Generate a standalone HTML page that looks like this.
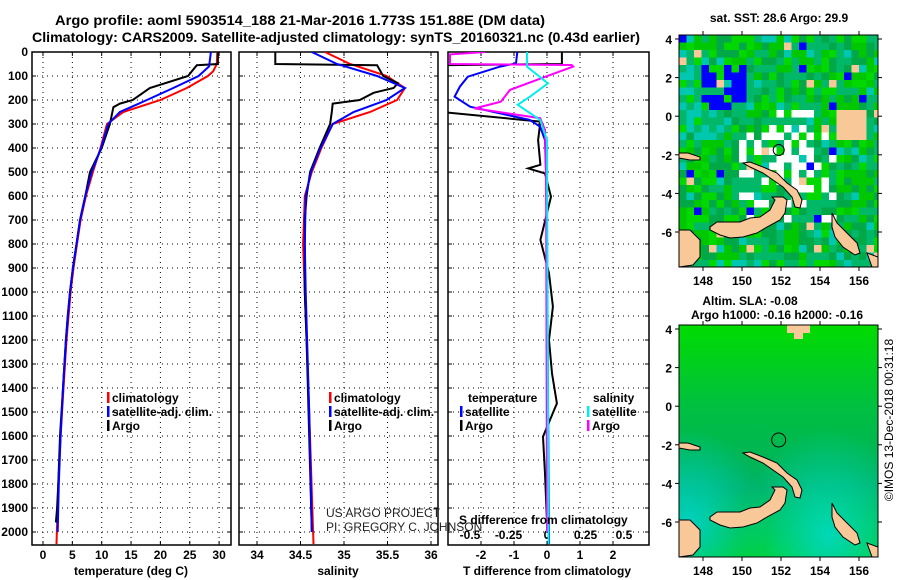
<!DOCTYPE html>
<html><head><meta charset="utf-8"><style>
body{margin:0;background:#fff}
svg{display:block;font-family:"Liberation Sans",sans-serif}
.b{font-weight:bold;font-size:12px}
</style></head><body>
<svg id="s" width="900" height="580" viewBox="0 0 900 580">
<defs>
<clipPath id="c1"><rect x="32" y="52" width="199" height="493"/></clipPath>
<clipPath id="c2"><rect x="239" y="52" width="199" height="493"/></clipPath>
<clipPath id="c3"><rect x="448" y="52" width="201" height="493"/></clipPath>
<clipPath id="cm1"><rect x="679" y="35" width="199" height="232"/></clipPath>
<clipPath id="cm2"><rect x="679" y="325" width="199" height="232"/></clipPath>
<radialGradient id="g2a" cx="0.75" cy="0.9" r="0.45"><stop offset="0" stop-color="#00d8b8"/><stop offset="1" stop-color="#00d8b8" stop-opacity="0"/></radialGradient>
<radialGradient id="g2b" cx="0.05" cy="0.85" r="0.4"><stop offset="0" stop-color="#00d0c0"/><stop offset="1" stop-color="#00d0c0" stop-opacity="0"/></radialGradient>
<linearGradient id="g2c" x1="0" y1="0" x2="0" y2="1"><stop offset="0" stop-color="#00dc00"/><stop offset="0.35" stop-color="#00c040"/><stop offset="0.7" stop-color="#00b060"/><stop offset="1" stop-color="#00d020"/></linearGradient>
</defs>
<text x="300" y="25" text-anchor="middle" font-size="14" font-weight="bold" textLength="490" lengthAdjust="spacingAndGlyphs">Argo profile: aoml 5903514_188 21-Mar-2016 1.773S 151.88E (DM data)</text>
<text x="336" y="42" text-anchor="middle" font-size="14" font-weight="bold" textLength="608" lengthAdjust="spacingAndGlyphs">Climatology: CARS2009. Satellite-adjusted climatology: synTS_20160321.nc (0.43d earlier)</text>
<g id="plots"></g>
<g id="maps"></g>
<text transform="translate(893,420) rotate(-90)" text-anchor="middle" font-size="12">©IMOS 13-Dec-2018 00:31:18</text>
</svg>
<script>
const NS='http://www.w3.org/2000/svg';
const svg=document.getElementById('s');
const P=document.getElementById('plots');
function mk(t,a,par){const e=document.createElementNS(NS,t);for(const k in a)e.setAttribute(k,a[k]);(par||P).appendChild(e);return e;}
function tx(x,y,s,a,par){const e=mk('text',Object.assign({x:x,y:y},a||{}),par);e.textContent=s;return e;}

// ---- data ----
const depthTicks=[0,100,200,300,400,500,600,700,800,900,1000,1100,1200,1300,1400,1500,1600,1700,1800,1900,2000];
const tempTicks=[0,5,10,15,20,25,30];
const salTicks=[34,34.5,35,35.5,36];
const tdTicks=[-2,-1,0,1,2];
const sdTicks=[-0.5,-0.25,0,0.25,0.5];
const tdTickLabels=['-2','-1','0','1','2'];
const sdTickLabels=['-0.5','-0.25','0','0.25','0.5'];
const argoTempDepth=[0,50,55,100,150,200,215,230,300,400,500,600,700,800,900,1000,1100,1200,1400,1600,1800,1900,1960];
const argoTemp=[29.8,29.8,26.2,24.7,18.2,15.3,13.1,12,11.4,10,8,7.2,6.3,5.7,5.1,4.6,4.2,3.9,3.4,2.9,2.6,2.4,2.2];
const climTempDepth=[0,50,80,100,150,200,250,300,400,500,600,700,800,900,1000,1200,1400,1600,1800,2050];
const climTemp=[29.7,29.6,29,28.1,24.5,20,13.7,10.9,9.8,8.5,7.3,6.4,5.8,5.2,4.7,4,3.5,3,2.6,2.3];
const satTempDepth=[0,60,100,150,200,250,300,400,500,600,700,800,900,1000,1200,1400,1600,1800,2000];
const satTemp=[28.6,28.3,26.5,22.2,17.7,13.1,11.1,9.9,8.3,7.2,6.3,5.7,5.1,4.6,3.9,3.4,3,2.7,2.5];
const argoSalDepth=[0,50,55,100,130,150,170,200,215,250,300,400,500,600,700,1000,1200,1600,2000];
const argoSal=[34.21,34.21,35.38,35.45,35.62,35.57,35.34,35.18,34.87,34.86,34.84,34.72,34.61,34.57,34.55,34.55,34.57,34.6,34.63];
const climSalDepth=[0,50,100,150,200,250,300,400,500,600,800,1000,1500,2050];
const climSal=[34.78,35.07,35.49,35.7,35.61,35.3,34.87,34.74,34.63,34.55,34.53,34.55,34.6,34.65];
const satSalDepth=[0,50,100,150,200,250,300,400,500,600,800,1000,1500,2000];
const satSal=[34.63,34.92,35.38,35.7,35.49,35.11,34.87,34.73,34.62,34.56,34.55,34.56,34.6,34.63];
const argoTdDepth=[0,50,55,250,290,367,470,485,506,603,783,922,1061,1200,1339,1464,1533,1603,1756,1960];
const argoTd=[0.45,0.45,-3.2,-3.2,-0.2,-0.27,-0.2,-0.57,-0.06,0.12,-0.2,0.06,0.18,0.06,0.15,0.3,0.09,-0.12,-0.06,0];
const satTdDepth=[0,47,61,103,144,186,228,283,311,367,506,783,2050];
const satTd=[-0.9,-0.94,-1.42,-2.4,-2.64,-2.8,-2.33,-0.52,-0.21,-0.06,-0.03,0,0.06];
const argoSdDepth=[0,10,50,54,61,103,158,207,235,276,325,506,2000];
const argoSd=[-0.4,-0.63,-0.63,0.16,0.17,-0.01,-0.24,-0.3,-0.47,-0.045,-0.013,-0.006,0];
const satSdDepth=[0,61,131,186,220,283,367,2050];
const satSd=[-0.13,-0.13,0.006,-0.11,-0.19,-0.045,0,0.01];

// ---- scales ----
const yD=d=>52+d*0.24;
const xT=t=>43+t*5.87;
const xS=s=>257+(s-34)*87;
const xTd=v=>547+v*33;
const xSd=v=>547+v*154;

function frame(x,w,name,xticks,xs){
  depthTicks.forEach(d=>{const l=mk('line',{x1:x,x2:x+w,y1:yD(d),y2:yD(d),stroke:'#000','stroke-dasharray':'1,4','stroke-width':1});
    
    mk('line',{x1:x,x2:x+4,y1:yD(d),y2:yD(d),stroke:'#000'});mk('line',{x1:x+w-4,x2:x+w,y1:yD(d),y2:yD(d),stroke:'#000'});});
  xticks.forEach(t=>{const X=xs(t);const l=mk('line',{x1:X,x2:X,y1:52,y2:545,stroke:'#000','stroke-dasharray':'1,4'});
    
    mk('line',{x1:X,x2:X,y1:52,y2:56,stroke:'#000'});mk('line',{x1:X,x2:X,y1:541,y2:545,stroke:'#000'});});
  const r=mk('rect',{x:x,y:52,width:w,height:493,fill:'none',stroke:'#000','stroke-width':1.5});
  
}
frame(32,199,'temperature-panel',tempTicks,xT);
frame(239,199,'salinity-panel',salTicks,xS);
frame(448,201,'difference-panel',tdTicks,xTd);

depthTicks.forEach(d=>{const t=tx(28,yD(d)+4,String(d),{'text-anchor':'end',class:'b'});
  });
tempTicks.forEach(v=>{const t=tx(xT(v),559,String(v),{'text-anchor':'middle',class:'b'});
  });
salTicks.forEach(v=>{const t=tx(xS(v),559,String(v),{'text-anchor':'middle',class:'b'});
  });
tdTicks.forEach((v,i)=>{const t=tx(xTd(v),559,tdTickLabels[i],{'text-anchor':'middle',class:'b'});
  });
sdTicks.forEach((v,i)=>{const t=tx(xSd(v),539,sdTickLabels[i],{'text-anchor':'middle',class:'b'});
  });

function line(ds,vs,xs,col,clip,name){
  const pts=ds.map((d,i)=>xs(vs[i]).toFixed(1)+','+yD(d).toFixed(1)).join(' ');
  const p=mk('polyline',{points:pts,fill:'none',stroke:col,'stroke-width':2,'clip-path':'url(#'+clip+')'});
  
}
line(climTempDepth,climTemp,xT,'#f00','c1','temp-climatology-line');
line(argoTempDepth,argoTemp,xT,'#000','c1','temp-argo-line');
line(satTempDepth,satTemp,xT,'#00f','c1','temp-satellite-line');
line(climSalDepth,climSal,xS,'#f00','c2','sal-climatology-line');
line(argoSalDepth,argoSal,xS,'#000','c2','sal-argo-line');
line(satSalDepth,satSal,xS,'#00f','c2','sal-satellite-line');
line(argoTdDepth,argoTd,xTd,'#000','c3','tdiff-argo-line');
line(satTdDepth,satTd,xTd,'#00f','c3','tdiff-satellite-line');
line(argoSdDepth,argoSd,xSd,'#f0f','c3','sdiff-argo-line');
line(satSdDepth,satSd,xSd,'#0ee','c3','sdiff-satellite-line');

function leg(x,y,col,s,name){mk('rect',{x:x,y:y-10,width:2.5,height:11,fill:col});
  const t=tx(x+5,y,s,{class:'b'});}
leg(107,402,'#f00','climatology','legend-climatology');
leg(107,416,'#00f','satellite-adj. clim.','legend-satellite');
leg(107,430,'#000','Argo','legend-argo');
leg(329,402,'#f00','climatology','legend-climatology-2');
leg(329,416,'#00f','satellite-adj. clim.','legend-satellite-2');
leg(329,430,'#000','Argo','legend-argo-2');
tx(468,402,'temperature',{class:'b'});
leg(460,416,'#00f','satellite','legend-tdiff-satellite');
leg(460,430,'#000','Argo','legend-tdiff-argo');
tx(593,402,'salinity',{class:'b'});
leg(587,416,'#0ee','satellite','legend-sdiff-satellite');
leg(587,430,'#f0f','Argo','legend-sdiff-argo');
tx(326,517,'US ARGO PROJECT',{'font-size':12,fill:'#222'});
tx(326,531,'PI: GREGORY C. JOHNSON',{'font-size':12,fill:'#222'});
tx(459,524,'S difference from climatology',{class:'b'});
let t;
t=tx(131,575,'temperature (deg C)',{'text-anchor':'middle',class:'b'});
t=tx(338,575,'salinity',{'text-anchor':'middle',class:'b'});
t=tx(547,575,'T difference from climatology',{'text-anchor':'middle',class:'b'});

// ---- maps ----
const M=document.getElementById('maps');
const lonTicks=[148,150,152,154,156];
const latTicks=[4,2,0,-2,-4,-6];
function hsh(i,j){let h=(i*374761393+j*668265263)^(i*j*1274126177);h=(h^(h>>>13))*1274126177;return ((h^(h>>>16))>>>0)%1000/1000;}
const pal=['#00c800','#00a848','#00b868','#00d800'];
function land(ox,oy,par){
  const shapes=[[31,192,38,187,61,187,71,183,81,182,91,175,96,165,93,162,104,162,108,165,106,178,101,185,88,192,78,198,64,202,51,203,41,200,31,195],
  [64,128,71,127,84,132,98,138,108,148,118,155,123,165,121,173,116,172,113,162,104,152,94,145,84,138,71,132],
  [153,178,158,188,168,198,178,208,181,218,176,220,164,212,156,202,153,192],
  [0,195,11,195,21,205,21,222,14,230,0,232],
  [0,118,9,118,21,122,21,125,11,125,0,123],
  [188,218,199,222,199,232,193,232]];
  shapes.forEach(s=>{const pts=[];for(let k=0;k<s.length;k+=2)pts.push((ox+s[k])+','+(oy+s[k+1]));
    const p=mk('polygon',{points:pts.join(' '),fill:'#f8c898',stroke:'#000','stroke-width':1},par);
    });
}
function mapAxes(oy,par,name){
  const r=mk('rect',{x:679,y:oy,width:199,height:232,fill:'none',stroke:'#000'},par);
  
  lonTicks.forEach(l=>{const X=703+(l-148)*19.5;mk('line',{x1:X,x2:X,y1:oy,y2:oy-4,stroke:'#000'},par);mk('line',{x1:X,x2:X,y1:oy+232,y2:oy+236,stroke:'#000'},par);
    tx(X,oy+250,String(l),{'text-anchor':'middle',class:'b','font-size':13},par);});
  latTicks.forEach(l=>{const Y=oy+4+(4-l)*19.3;mk('line',{x1:675,x2:679,y1:Y,y2:Y,stroke:'#000'},par);mk('line',{x1:878,x2:882,y1:Y,y2:Y,stroke:'#000'},par);
    tx(672,Y+5,String(l),{'text-anchor':'end',class:'b','font-size':13},par);});
}
// map 1 cells
const g1=mk('g',{'clip-path':'url(#cm1)'},M);

for(let i=0;i<27;i++)for(let j=0;j<31;j++){
  const x=679+i*7.5,y=35+j*7.5,r=hsh(i,j);let c=pal[Math.floor(r*4)];
  if(r>0.92)c='#00c8b0';
  if(i>=3&&i<=8&&j>=4&&j<=9&&r<0.6)c='#0000ff';
  else if(i<6&&j>1&&j<14&&r<0.4)c='#00c8b0';
  if(((i>=8&&i<=20&&j>=13&&j<=24)&&r<0.35)||(i>=12&&i<=17&&j>=10&&j<=18&&r<0.5))c='#ffffff';
  if(r>0.97)c='#f8c898';
  if(i>=21&&i<=24&&j>=10&&j<=13)c='#f8c898';
  if(r<0.02)c='#0000ff';
  mk('rect',{x:x,y:y,width:7.6,height:7.6,fill:c},g1);
}
land(679,35,g1);
mk('circle',{cx:778.7,cy:150,r:5.5,fill:'none',stroke:'#000'},g1);
mapAxes(35,M,'sst-map-frame');
tx(779,22,'sat. SST: 28.6 Argo: 29.9',{'text-anchor':'middle',class:'b','font-size':13},M);
// map 2
const g2=mk('g',{'clip-path':'url(#cm2)'},M);

mk('rect',{x:679,y:325,width:199,height:232,fill:'url(#g2c)'},g2);
mk('rect',{x:679,y:325,width:199,height:232,fill:'url(#g2a)'},g2);
mk('rect',{x:679,y:325,width:199,height:232,fill:'url(#g2b)'},g2);
mk('polygon',{points:'787,325 810,325 810,333 803,333 803,339 794,339 794,333 787,333',fill:'#f8c898'},g2);
land(679,325,g2);
mk('circle',{cx:778.7,cy:440,r:7,fill:'none',stroke:'#000'},g2);
mapAxes(325,M,'sla-map-frame');
tx(750,305,'Altim. SLA: -0.08',{'text-anchor':'middle',class:'b','font-size':13},M);
tx(777,319,'Argo h1000: -0.16 h2000: -0.16',{'text-anchor':'middle',class:'b','font-size':13},M);
</script>
</body></html>
